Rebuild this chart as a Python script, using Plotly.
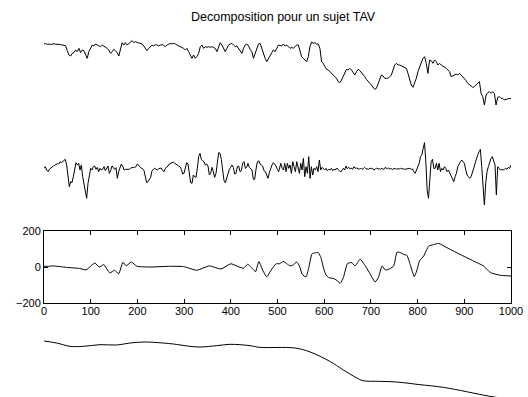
import numpy as np
import plotly.graph_objects as go

# ---------------- data ----------------
# Panel 1: original signal (two sampled segments)
sig_a = [958,959,957,958,956,958,959,957,958,957,
         956,955,956,953,938,925,922,930,932,940,
         935,945,932,940,938,925,915,935,948,955,
         952,958,955,952,950,955,952,948,945,940,
         930,935,942,938,932,922,945,962,955,962,
         955,960,965,968,962,965,963,962,960,958,
         952,945,938,945,950,955,952,956,955,952,
         955,956,954,950,955,958,960,958,960,958,
         954,952,950,948,945,940,945,935,925,915,
         925,915,920,930,950,955,945,950,948,950,
         948,950,948,945,935,952,962,955,945,935,
         945,955,958,960,955,950,952,945,940,930,
         945,955,958,952,942,935,915,930,945,958,
         960,945,925,915,905,915,925,932,940,935,
         945,955]
sig_b = [952,958,952,955,950,945,948,945,950,955,
         955,935,920,915,910,905,920,950,964,960,
         962,958,958,945,905,900,890,882,880,875,
         872,865,860,855,845,842,850,860,872,882,
         880,885,880,870,865,875,882,878,872,868,
         860,852,845,840,835,828,822,825,840,855,
         865,862,855,855,855,860,865,880,895,900,
         895,895,892,890,888,885,870,850,835,828,
         840,855,875,890,905,915,920,900,870,910,
         908,900,910,905,895,900,895,892,890,885,
         880,875,860,862,865,868,865,870,865,860,
         855,848,840,835,830,828,830,835,840,845,
         810,800,775,805,812,815,810,815,810,775,
         798,800,795,795,790,792,792,795,
         794]
sig_t_a = (0, 502)
sig_t_b = (509, 1000)

# Panel 2: high-frequency component
hf_a = [5,10,0,-5,2,6,8,12,14,18,
        19,18,25,22,26,28,32,15,-30,-50,
        -35,-38,-20,2,22,15,20,0,15,-20,
        -40,-60,-85,-40,-10,5,0,10,12,2,
        8,-5,5,0,2,10,-2,5,12,-10,
        -2,12,8,2,7,-25,-5,10,18,12,
        0,2,2,0,2,6,8,8,8,10,
        18,12,10,5,4,-2,-20,-38,-35,-30,
        -22,-2,2,5,2,0,4,5,6,-2,
        -5,5,8,12,18,20,22,24,20,16,
        15,12,10,2,-12,-10,12,22,18,-5,
        -38,-40,-15,-20,-22,5,40,50,32,28,
        25,15,18,12,-15,-10,8,-5,-22,-10,
        25,52,50,32,0,-32,-38,-22,-8,2,
        8,15,8,-12,-10,10,12,-5,-2,20,
        25,5,8,20,8,5,0,-28,-28,2,
        24,28,18,15,12,-2,-5,-15,-25,-8,
        8,15,22,18,12,2,-5]
hf_b = [20,5,0,20,-5,20,5,15,-10,25,
        10,-5,25,10,-10,20,0,35,-20,10,
        -10,40,-25,10,-15,5,0,10,-5,30,
        0,8,2,0,5,-2,2,0,5,-2,
        2,0,6,0,-2,-6,2,5,0,12,
        4,8,4,6,2,10,5,6,4,2,
        6,2,4,8,4,3,2,6,4,5,
        0,2,6,3,4,2,5,2,5,8,
        3,6,3,4,2,3,5,2,4,3,
        5,3,4,2,3,4,3,5,2,3,
        -5,-10,0,10,20,40,45,65,82,25,
        -60,-85,-20,25,32,5,5,20,0,20,
        -5,5,0,10,5,-5,0,-10,-15,-25,
        -35,-20,-10,10,20,25,30,25,20,0,
        -15,-20,-25,-20,-10,5,20,35,45,55,
        62,10,-60,-105,-40,-5,10,25,35,40,
        30,15,-75,10,5,0,2,0,2,5,
        2,8,5,
        15]
hf_t_a = (0, 502.5)
hf_t_b = (507, 1000)

# Panel 3: mid-frequency component
mid_t = [0, 12, 19, 48, 76, 90, 100, 109, 118, 128, 141, 151, 160, 169, 176, 187, 199,
         227, 270, 299, 327, 354, 379, 400, 414, 427, 436, 441, 447, 453, 460, 469,
         477, 486, 497, 504, 513, 520, 527, 533, 541, 547, 553, 561, 567, 574, 580,
         587, 593, 598, 603, 609, 621, 629, 634, 641, 650, 659, 666, 677, 688, 699,
         709, 716, 724, 731, 741, 749, 756, 763, 770, 777, 784, 793, 799, 804, 813,
         824, 834, 845, 863, 891, 920, 941, 956, 977, 1000]
mid_v = [4, 4, 6, -2, -8, -16, 5, 22, 0, 13, -33, -18, -37, 26, 7, 28, 4,
         0, 4, 2, -18, 6, -11, 18, 4, -7, 15, 6, -11, -26, 30, -22,
         -54, -19, 18, 18, 31, 18, 6, 11, 28, 6, -41, -55, -4, 74, 78,
         81, 52, 0, -40, -58, -65, -78, -91, -59, 20, 24, 6, 43, 6, -41,
         -83, -59, 6, -17, -9, 6, 83, 80, 70, 65, 15, -54, -13, 33, 61,
         117, 124, 131, 107, 70, 33, 6, -31, -46, -50]

# Panel 4: trend
trend_t = [0, 27, 56, 84, 120, 156, 184, 216, 255, 277, 313, 334, 370, 398, 441, 462,
           537, 570, 612, 640, 670, 683, 719, 755, 805, 855, 955, 1000]
trend_v = [951, 945, 935, 935, 940, 939, 945, 948, 945, 942, 935, 933, 937, 941, 937, 932,
           930, 918, 890, 865, 840, 832, 830, 828, 820, 812, 785, 775]

x_ticks = [0, 100, 200, 300, 400, 500, 600, 700, 800, 900, 1000]
y_ticks = [-200, 0, 200]
title_text = "Decomposition pour un sujet TAV"

# ---------------- layout helpers ----------------
W, H = 528, 397
X0, X1 = 44, 511


def ydom(top, bottom):
    return [(H - bottom) / H, (H - top) / H]


def seg_t(rng, n):
    return np.linspace(rng[0], rng[1], n)


t1 = np.concatenate([seg_t(sig_t_a, len(sig_a)), seg_t(sig_t_b, len(sig_b))])
v1 = np.array(sig_a + sig_b)
t2 = np.concatenate([seg_t(hf_t_a, len(hf_a)), seg_t(hf_t_b, len(hf_b))])
v2 = np.array(hf_a + hf_b)

line = dict(color="black", width=1)
fig = go.Figure()
fig.add_trace(go.Scatter(x=t1, y=v1, mode="lines", line=line, xaxis="x", yaxis="y"))
fig.add_trace(go.Scatter(x=t2, y=v2, mode="lines", line=line, xaxis="x2", yaxis="y2"))
fig.add_trace(go.Scatter(x=mid_t, y=mid_v, mode="lines",
                         line=dict(color="black", width=1, shape="spline", smoothing=0.5),
                         xaxis="x3", yaxis="y3"))
fig.add_trace(go.Scatter(x=trend_t, y=trend_v, mode="lines",
                         line=dict(color="black", width=1, shape="spline", smoothing=1.0),
                         xaxis="x4", yaxis="y4"))

xdom = [X0 / W, X1 / W]
hidden_x = dict(domain=xdom, range=[0, 1000], visible=False)
font = dict(family="Liberation Sans, Arial, sans-serif", size=11, color="black")

fig.update_layout(
    width=W, height=H,
    margin=dict(l=0, r=0, t=0, b=0, autoexpand=False),
    paper_bgcolor="white", plot_bgcolor="white",
    showlegend=False,
    hovermode=False,
    font=font,
    xaxis=dict(hidden_x, anchor="y"),
    yaxis=dict(domain=ydom(32, 112), range=[754, 994], visible=False, anchor="x"),
    xaxis2=dict(hidden_x, anchor="y2"),
    yaxis2=dict(domain=ydom(134, 210), range=[-120, 108], visible=False, anchor="x2"),
    xaxis3=dict(domain=xdom, range=[0, 1000], anchor="y3", tickvals=x_ticks,
                ticks="inside", ticklen=4, tickcolor="black", showline=True,
                linecolor="black", linewidth=1, mirror="ticks", showgrid=False,
                zeroline=False, tickfont=font, automargin=False,
                ticklabelstandoff=-2),
    yaxis3=dict(domain=ydom(231, 303), range=[-200, 200], anchor="x3", tickvals=y_ticks,
                ticks="inside", ticklen=4, tickcolor="black", showline=True,
                linecolor="black", linewidth=1, mirror="ticks", showgrid=False,
                zeroline=False, tickfont=font, automargin=False),
    xaxis4=dict(hidden_x, anchor="y4"),
    yaxis4=dict(domain=ydom(330, 397), range=[783, 984], visible=False, anchor="x4"),
    annotations=[dict(text=title_text, xref="paper", yref="paper",
                      x=283 / W, y=1 - 17 / H, xanchor="center", yanchor="middle",
                      showarrow=False, font=dict(font, size=12.5))],
)

fig.write_html("out.html", config={"displayModeBar": False, "staticPlot": True},
               post_script="document.body.style.margin='0';document.body.style.overflow='hidden';")
